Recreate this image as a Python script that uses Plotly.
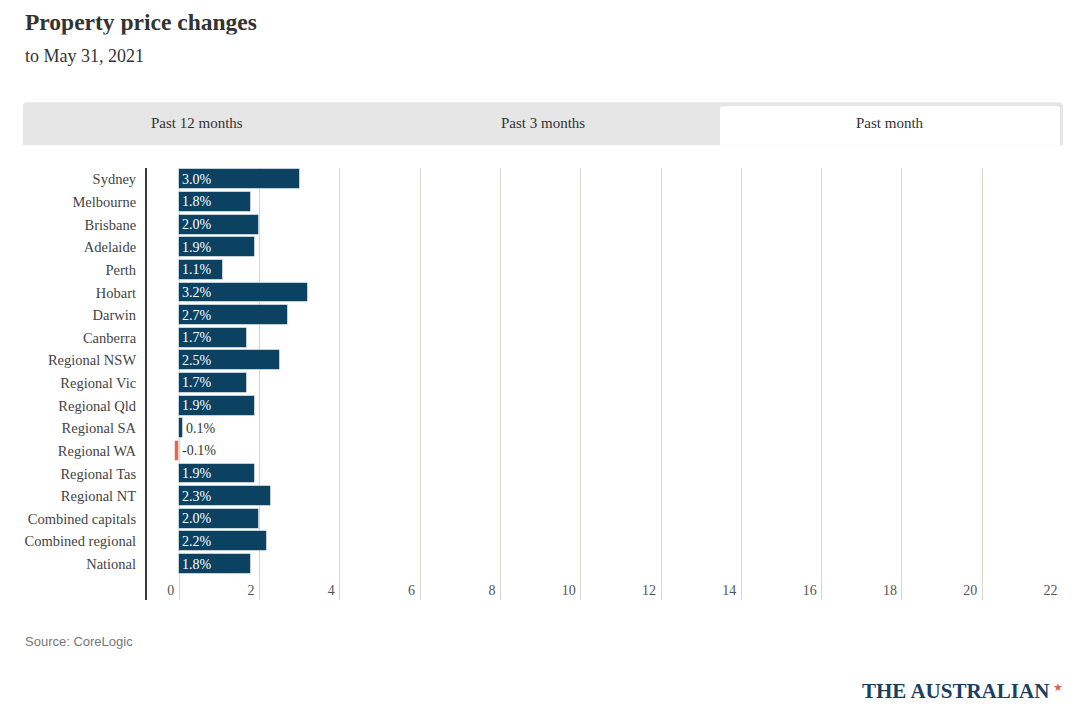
import plotly.graph_objects as go

categories = ["Sydney", "Melbourne", "Brisbane", "Adelaide", "Perth", "Hobart", "Darwin",
              "Canberra", "Regional NSW", "Regional Vic", "Regional Qld", "Regional SA",
              "Regional WA", "Regional Tas", "Regional NT", "Combined capitals",
              "Combined regional", "National"]
values = [3.0, 1.8, 2.0, 1.9, 1.1, 3.2, 2.7, 1.7, 2.5, 1.7, 1.9, 0.1, -0.1, 1.9, 2.3, 2.0, 2.2, 1.8]
x_ticks = [0, 2, 4, 6, 8, 10, 12, 14, 16, 18, 20, 22]
tabs = ["Past 12 months", "Past 3 months", "Past month"]

OFF = 8  # page body margin
W, H = 1080 - OFF, 711 - OFF
# plot area in page coordinates
PL, PR, PT, PB = 147, 1063, 167.7, 600
L, R, T, B = PL - OFF, PR - OFF, PT - OFF, PB - OFF

SERIF = "Liberation Serif, Times New Roman, serif"
POS = "#0b4261"
NEG = "#ef6250"

idx = list(range(len(categories)))
colors = [POS if v >= 0 else NEG for v in values]

fig = go.Figure()
fig.add_trace(go.Bar(
    x=values, y=idx, orientation="h", width=0.88,
    marker=dict(color=colors, line=dict(color="rgba(255,255,255,0.5)", width=1)),
    hoverinfo="skip",
))

fig.update_layout(
    width=W, height=H, showlegend=False,
    paper_bgcolor="white", plot_bgcolor="white",
    margin=dict(l=L, r=W - R, t=T, b=H - B, pad=0),
    bargap=0,
)
fig.update_xaxes(
    range=[-0.8, 22.01], tickvals=x_ticks, ticktext=[str(t) for t in x_ticks],
    showgrid=True, gridcolor="#d9d6ce", gridwidth=1, zeroline=False,
    showline=False, ticks="", ticklabelposition="inside left", ticklabelshift=-5,
    ticklabelstandoff=-4,
    tickfont=dict(family=SERIF, size=14, color="#555555"),
)
fig.update_yaxes(
    range=[18.59, -0.5], tickvals=idx, ticktext=categories,
    showgrid=False, zeroline=False, showline=True, linecolor="#3a3a3a", linewidth=2,
    ticks="", ticklabelstandoff=6,
    tickfont=dict(family=SERIF, size=14.5, color="#444444"),
)

# value labels
for i, v in enumerate(values):
    big = v >= 0.5
    fig.add_annotation(text=f"{v:.1f}%", xref="x", yref="y", x=max(v, 0) if not big else 0,
                       y=i, xanchor="left", yanchor="middle", xshift=1, showarrow=False,
                       font=dict(family=SERIF, size=14, color="#ffffff" if big else "#333333"))


def px_x(x):
    return (x - OFF - L) / (R - L)


def px_y(y):
    return (B - (y - OFF)) / (B - T)


fig.add_annotation(text="<b>Property price changes</b>", xref="paper", yref="paper",
                   x=px_x(23), y=px_y(8), xanchor="left", yanchor="top", showarrow=False,
                   height=24.5, font=dict(family=SERIF, size=23.5, color="#333333"))
fig.add_annotation(text="to May 31, 2021", xref="paper", yref="paper",
                   x=px_x(23), y=px_y(56), xanchor="left", yanchor="middle", showarrow=False,
                   font=dict(family=SERIF, size=18, color="#333333"))

# tab bar
fig.add_shape(type="path", xref="paper", yref="paper",
              path=(f"M {px_x(23)},{px_y(145)} L {px_x(23)},{px_y(106)} "
                    f"Q {px_x(23)},{px_y(102)} {px_x(27)},{px_y(102)} "
                    f"L {px_x(1059)},{px_y(102)} Q {px_x(1063)},{px_y(102)} {px_x(1063)},{px_y(106)} "
                    f"L {px_x(1063)},{px_y(145)} Z"),
              fillcolor="#e6e6e6", line=dict(width=0), layer="below")
fig.add_shape(type="path", xref="paper", yref="paper",
              path=(f"M {px_x(720)},{px_y(145)} L {px_x(720)},{px_y(108)} "
                    f"Q {px_x(720)},{px_y(106)} {px_x(722)},{px_y(106)} "
                    f"L {px_x(1057)},{px_y(106)} Q {px_x(1060)},{px_y(106)} {px_x(1060)},{px_y(108)} "
                    f"L {px_x(1060)},{px_y(145)} Z"),
              fillcolor="#ffffff", line=dict(width=0), layer="below")
for label, cx in zip(tabs, [197, 543, 890]):
    fig.add_annotation(text=label, xref="paper", yref="paper",
                       x=px_x(cx), y=px_y(123), xanchor="center", yanchor="middle",
                       showarrow=False, font=dict(family=SERIF, size=15, color="#333333"))

# source
fig.add_annotation(text="Source: CoreLogic", xref="paper", yref="paper",
                   x=px_x(23), y=px_y(642), xanchor="left", yanchor="middle", showarrow=False,
                   font=dict(family="Liberation Sans, Arial, sans-serif", size=13, color="#777777"))

# logo
fig.add_annotation(text="<b>THE AUSTRALIAN</b>", xref="paper", yref="paper",
                   x=px_x(1051), y=px_y(691), xanchor="right", yanchor="middle", showarrow=False,
                   font=dict(family=SERIF, size=21, color="#1b3f5f"))
fig.add_annotation(text="★", xref="paper", yref="paper",
                   x=px_x(1058), y=px_y(688), xanchor="center", yanchor="middle", showarrow=False,
                   font=dict(family="DejaVu Sans", size=11, color="#e8604c"))

fig.write_html("out.html")
